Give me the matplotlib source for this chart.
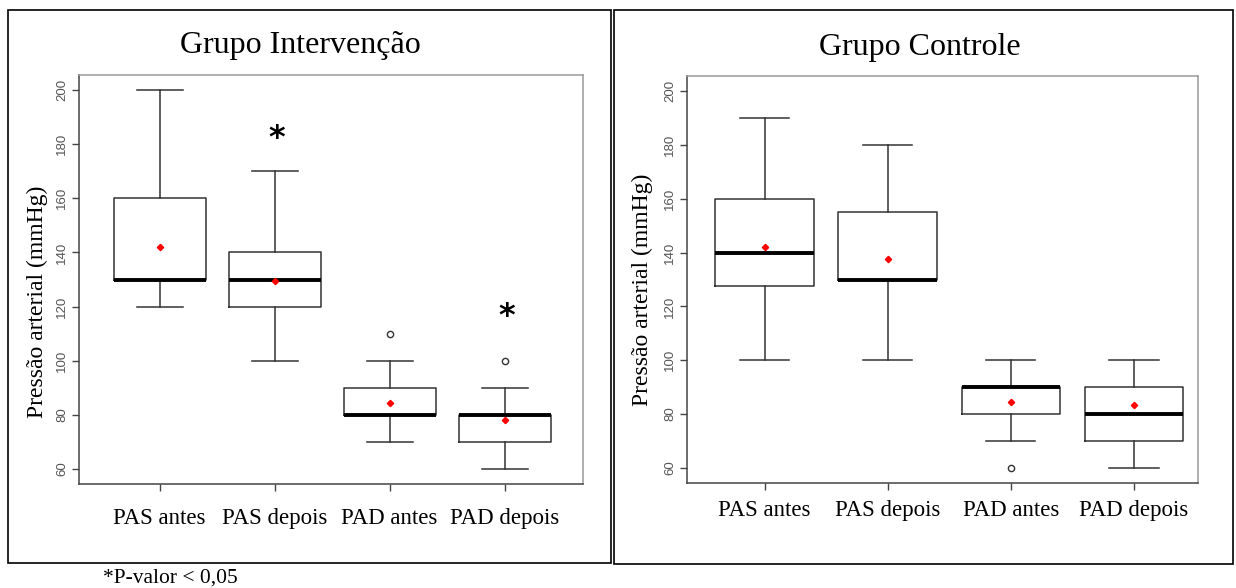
import numpy as np
import matplotlib
matplotlib.use("Agg")
import matplotlib.pyplot as plt
from matplotlib.patches import Rectangle

# --- data ---
labels = ["PAS antes", "PAS depois", "PAD antes", "PAD depois"]

interv_whislo = [120, 100, 70, 60]
interv_q1 = [130, 120, 80, 70]
interv_med = [130, 130, 80, 80]
interv_q3 = [160, 140, 90, 80]
interv_whishi = [200, 170, 100, 90]
interv_mean = [142, 129.5, 84.5, 78]
interv_fliers = [[], [], [110], [100]]
interv_signif = [False, True, False, True]
interv_star_y = [None, 182, None, 116.5]

ctrl_whislo = [100, 100, 70, 60]
ctrl_q1 = [127.5, 130, 80, 70]
ctrl_med = [140, 130, 90, 80]
ctrl_q3 = [160, 155, 90, 90]
ctrl_whishi = [190, 180, 100, 100]
ctrl_mean = [142, 137.5, 84.5, 83.5]
ctrl_fliers = [[], [], [60], []]

yticks = [60, 80, 100, 120, 140, 160, 180, 200]

W, H = 1236, 588
SERIF = ["Liberation Serif", "DejaVu Serif"]
SANS = ["Liberation Sans", "DejaVu Sans"]


def fx(px):
    return px / W


def fy(py):
    return 1 - py / H


def make_stats(lo, q1, med, q3, hi, mean, fliers):
    stats = []
    for i in range(len(lo)):
        stats.append(dict(whislo=lo[i], q1=q1[i], med=med[i], q3=q3[i],
                          whishi=hi[i], mean=mean[i], fliers=fliers[i]))
    return stats


def draw_panel(ax, stats, xlim, xpad):
    ax.bxp(stats, positions=[1, 2, 3, 4], widths=0.8, capwidths=0.4,
           showmeans=True, patch_artist=False,
           boxprops=dict(color="#333333", linewidth=1.1),
           whiskerprops=dict(color="#333333", linewidth=1.1, linestyle="-"),
           capprops=dict(color="#333333", linewidth=1.1),
           medianprops=dict(color="black", linewidth=2.8, solid_capstyle="butt"),
           meanprops=dict(marker="D", markerfacecolor="red", markeredgecolor="red",
                          markersize=3.2),
           flierprops=dict(marker="o", markerfacecolor="none",
                           markeredgecolor="#333333", markersize=4.5,
                           markeredgewidth=1.0))
    ax.set_xlim(*xlim)
    ax.set_ylim(54.4, 205.6)
    ax.set_yticks(yticks)
    ax.set_yticklabels([str(t) for t in yticks], rotation=90, va="center",
                       family=SANS, fontsize=9.5, color="#555555")
    ax.set_xticks([1, 2, 3, 4])
    ax.set_xticklabels(labels, family=SERIF, fontsize=16.5)
    ax.tick_params(axis="y", length=5, width=1, color="#444444", pad=3)
    ax.tick_params(axis="x", length=5, width=1, color="#444444", pad=xpad)
    for side in ["left", "bottom"]:
        ax.spines[side].set_color("#444444")
        ax.spines[side].set_linewidth(1.1)
    for side in ["top", "right"]:
        ax.spines[side].set_color("#9a9a9a")
        ax.spines[side].set_linewidth(1.1)


fig = plt.figure(figsize=(W / 100, H / 100), dpi=100)
fig.patch.set_facecolor("white")

# outer frames
fig.patches.append(Rectangle((fx(8), fy(563)), fx(611) - fx(8), fy(10) - fy(563),
                             transform=fig.transFigure, fill=False,
                             edgecolor="black", linewidth=1.2))
fig.patches.append(Rectangle((fx(614), fy(564)), fx(1233) - fx(614), fy(10) - fy(564),
                             transform=fig.transFigure, fill=False,
                             edgecolor="black", linewidth=1.2))

ax1 = fig.add_axes([fx(79), fy(484), fx(583) - fx(79), fy(75) - fy(484)])
draw_panel(ax1, make_stats(interv_whislo, interv_q1, interv_med, interv_q3,
                           interv_whishi, interv_mean, interv_fliers),
           (0.30, 4.68), 12)
for i, s in enumerate(interv_signif):
    if s:
        ax1.text(i + 1.02, interv_star_y[i], "*", ha="center", va="center",
                 family=["DejaVu Sans"], fontsize=23, fontweight="bold")

ax2 = fig.add_axes([fx(687), fy(483), fx(1198) - fx(687), fy(76) - fy(483)])
draw_panel(ax2, make_stats(ctrl_whislo, ctrl_q1, ctrl_med, ctrl_q3,
                           ctrl_whishi, ctrl_mean, ctrl_fliers),
           (0.37, 4.52), 7)

fig.text(fx(300), fy(46), "Grupo Intervenção", ha="center", va="center",
         family=SERIF, fontsize=23)
fig.text(fx(920), fy(48), "Grupo Controle", ha="center", va="center",
         family=SERIF, fontsize=23)
fig.text(fx(37), fy(302), "Pressão arterial (mmHg)", rotation=90, ha="center",
         va="center", family=SERIF, fontsize=17)
fig.text(fx(642), fy(290), "Pressão arterial (mmHg)", rotation=90, ha="center",
         va="center", family=SERIF, fontsize=17)
fig.text(fx(103), fy(578), "*P-valor < 0,05", ha="left", va="center",
         family=SERIF, fontsize=15.5)

fig.savefig("out.png", dpi=100)
